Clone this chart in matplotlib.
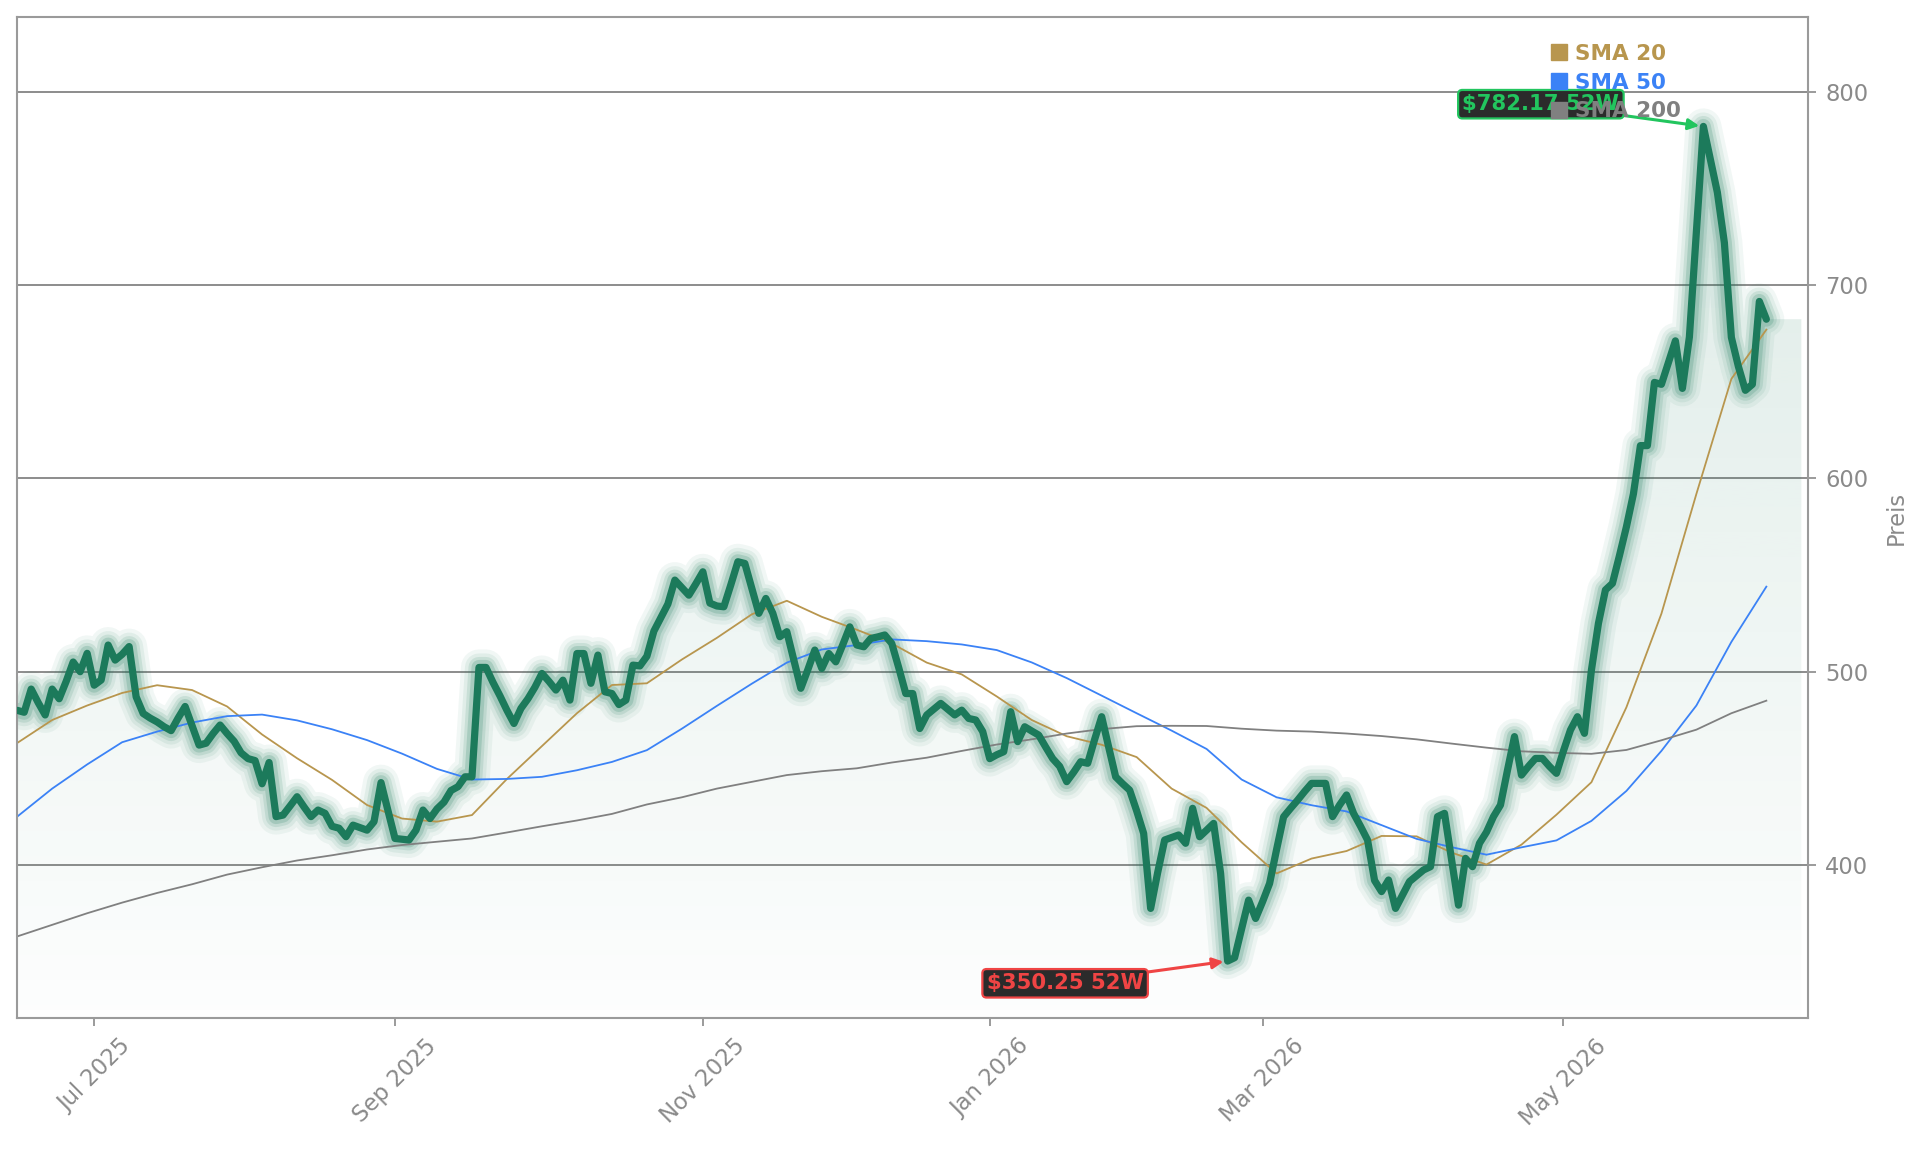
import numpy as np
import pandas as pd
import matplotlib
matplotlib.use("Agg")
import matplotlib.pyplot as plt
from matplotlib.lines import Line2D
from matplotlib.patches import Polygon

# ---------------- data ----------------
start_date = "2025-06-13"
holidays = ["2025-06-19", "2025-07-04", "2025-09-01", "2025-11-27", "2025-12-25",
            "2026-01-01", "2026-01-19", "2026-02-16", "2026-04-03", "2026-05-25"]

close = [
    480, 479, 491, 484, 477.6, 491, 486, 495, 505, 500,
    509.5, 493, 495.7, 513.8, 506, 509, 513, 487, 478.4, 476,
    474, 471.5, 469.5, 476, 482, 472, 462, 463, 468, 472.4,
    468, 464, 458, 455, 454, 442, 453, 425, 425.8, 430.5,
    435.3, 430, 425, 428.4, 426.7, 420, 419, 414.6, 420.6, 419.3,
    418, 422.4, 442.6, 428, 413.7, 413.3, 412.9, 418, 428.4, 424,
    429, 432.5, 438.5, 440.5, 445.6, 445.6, 502.2, 502.2, 494.5, 487.5,
    480, 473.2, 481, 486, 492, 499.1, 495, 490.5, 495.6, 485.3,
    509.4, 509.4, 494, 508.6, 489.6, 488.7, 483, 485.3, 503.4, 503,
    508, 521, 528, 535, 547.4, 543.5, 539.6, 545.5, 551.7, 535.5,
    534, 533.6, 545, 556.9, 556, 543, 530.2, 537.9, 530.2, 518.1,
    520.7, 506, 491.4, 501, 511.2, 501.7, 509.4, 505.1, 514, 523.2,
    513.8, 512.9, 517.2, 518, 519, 514.6, 502, 488.7, 488.7, 470.6,
    477.6, 480.6, 483.6, 480.6, 477.6, 480.1, 475.8, 475, 469, 455,
    457, 458.6, 479.3, 463.8, 471.5, 469.3, 467.2, 461, 455, 451,
    443.1, 448, 453.4, 452.6, 465, 476.7, 461, 445.6, 442, 438.7,
    428, 416.3, 377.5, 396, 412.9, 414.2, 415.5, 411.2, 429.3, 414.6,
    418, 421.5, 395.6, 350.25, 352, 367, 381.8, 372.3, 381, 390.4,
    408, 424.9, 429.3, 433.5, 438, 442.2, 442.2, 442.2, 425, 431,
    436.2, 426.7, 420, 412.9, 392, 386.2, 392.2, 377.5, 384.5, 391.4,
    394.4, 397.4, 399.1, 425, 426.7, 403, 379.2, 403.4, 399.1, 411.2,
    417, 425, 431, 449, 466.4, 446.5, 451, 455.1, 455.1, 451,
    447.4, 459, 469.8, 476.7, 468.1, 500.9, 525, 542.3, 545.7, 560,
    575, 592, 617, 617, 649.7, 648.7, 660, 671.2, 646.6, 673.2,
    728, 782.17, 765, 748, 722, 673, 658, 645.6, 648.7, 691.6,
    682.4,
]

# moving averages, read every 5th trading day
sma_step = 5
sma20 = [463.1, 475, 482.5, 489, 493, 490.5, 482, 467.5, 455.2, 444,
         431, 424, 422.4, 425.8, 444.5, 461.5, 478.5, 493.1, 494, 506.3,
         517.5, 529.7, 536.7, 528.4, 521.7, 514.6, 504.7, 498.6, 487.2, 475,
         466.6, 462.2, 455.8, 439.5, 429.5, 411.7, 395.6, 403.3, 407.2, 415,
         414.8, 406.4, 400.2, 410.5, 426, 442.8, 481.6, 530, 592, 651.5,
         677]
sma50 = [425, 439.5, 452, 463.5, 469, 473.7, 477, 477.8, 474.8, 470.2,
         464.6, 457.6, 449.7, 444.2, 444.5, 445.6, 449, 453.3, 459.4, 470.5,
         482.3, 493.8, 504.7, 511.5, 513.8, 516.7, 515.8, 514.1, 511.2, 504.8,
         496.7, 487.6, 478.5, 469.5, 460, 444.2, 435, 430.9, 427.7, 420.6,
         413.5, 409.2, 405.3, 409.1, 412.7, 422.8, 438.3, 459, 482.5, 515.4,
         544]
sma200 = [363, 369, 375, 380.5, 385.5, 390, 395, 398.8, 402.3, 405,
          408, 410.3, 412, 413.7, 416.8, 420, 423, 426.4, 431.3, 435,
          439.5, 443, 446.5, 448.5, 450, 453, 455.5, 459, 462.3, 465,
          468, 470.3, 471.8, 472, 471.9, 470.5, 469.5, 469, 468, 466.7,
          465, 462.8, 460.7, 458.8, 458, 457.5, 459.5, 464.5, 470, 478.5,
          485]
sma_labels = ["SMA 20", "SMA 50", "SMA 200"]

# ---------------- styling ----------------
GREEN = "#1c7a5b"
SMA_COLORS = ["#b8964e", "#3b82f6", "#808080"]
UP = "#22c55e"
DOWN = "#ef4444"
AX_GRAY = "#8a8a8a"

close = np.asarray(close, dtype=float)
n = len(close)
dates = pd.bdate_range(start_date, periods=n, freq="C", holidays=holidays)
x = np.arange(n)
xs = x[::sma_step]

fig = plt.figure(figsize=(19.21, 11.53), dpi=100)
ax = fig.add_axes([0.00895, 0.1171, 0.9324, 0.868])
ax.set_facecolor("white")

y_lo, y_hi = 320.8, 838.7
x_pad = 5

# gradient fill below the price
xf = np.append(x, x[-1] + x_pad)
yf = np.append(close, close[-1])
verts = [(xf[0], y_lo)] + list(zip(xf, yf)) + [(xf[-1], y_lo)]
poly = Polygon(verts, closed=True, fc="none", ec="none")
ax.add_patch(poly)
rgb = np.array([28, 122, 91]) / 255.0
alpha = np.linspace(0.01, 0.15, 256).reshape(-1, 1)
img = np.zeros((256, 1, 4))
img[..., :3] = rgb
img[..., 3] = alpha
im = ax.imshow(img, extent=[xf[0], xf[-1], y_lo, close.max()], origin="lower",
               aspect="auto", zorder=1, interpolation="bilinear")
im.set_clip_path(poly)

# glow
for lw_px, a in [(36, 0.06), (28, 0.08), (21, 0.12), (15, 0.18)]:
    ax.plot(x, close, color=GREEN, lw=lw_px * 0.72, alpha=a, zorder=2,
            solid_joinstyle="round", solid_capstyle="round")

# moving averages
for vals, c in zip([sma20, sma50, sma200], SMA_COLORS):
    ax.plot(xs, vals, color=c, lw=1.3, zorder=2.5)

# price core line
ax.plot(x, close, color=GREEN, lw=5.2, zorder=3,
        solid_joinstyle="round", solid_capstyle="round")

# 52-week high / low annotations
imax, imin = int(np.argmax(close)), int(np.argmin(close))
for idx, col, dy in [(imax, UP, 16), (imin, DOWN, -16)]:
    ax.annotate(f"${close[idx]:.2f} 52W", xy=(idx, close[idx]),
                xytext=(-117, dy), textcoords="offset points",
                ha="center", va="center", color=col, fontsize=15.3,
                fontweight="bold", zorder=4,
                bbox=dict(boxstyle="round,pad=0.2", fc="#2b2b2b", ec=col, lw=1.6),
                arrowprops=dict(arrowstyle="-|>", color=col, lw=2.2,
                                mutation_scale=16, shrinkA=0, shrinkB=3))

# axes limits and ticks
ax.set_xlim(0, n - 1 + x_pad + 1)
ax.set_ylim(y_lo, y_hi)
ax.set_yticks([400, 500, 600, 700, 800])
ax.yaxis.tick_right()
ax.yaxis.set_label_position("right")
ax.set_ylabel("Preis", color=AX_GRAY, fontsize=16.3, labelpad=12)

tick_idx = [i for i in range(1, n)
            if dates[i].month != dates[i - 1].month and dates[i].month % 2 == 1]
ax.set_xticks(tick_idx)
ax.set_xticklabels([dates[i].strftime("%b %Y") for i in tick_idx],
                   rotation=45, ha="center")

ax.tick_params(axis="both", colors=AX_GRAY, labelcolor=AX_GRAY, labelsize=16.3,
               length=6, width=1.2)
ax.tick_params(axis="y", pad=6)
ax.tick_params(axis="x", pad=6)

ax.set_axisbelow(True)
ax.grid(axis="y", color="#8c8c8c", lw=1.4, zorder=0)
ax.grid(axis="x", visible=False)
for s in ax.spines.values():
    s.set_color("#9a9a9a")
    s.set_linewidth(1.5)

# legend
handles = [Line2D([], [], ls="none", marker="s", ms=11, color=c) for c in SMA_COLORS]
leg = ax.legend(handles, sma_labels, loc="upper left", bbox_to_anchor=(0.851, 0.984),
                frameon=False, borderpad=0, handlelength=0.6, handletextpad=0.45,
                labelspacing=0.40, prop=dict(weight="bold", size=15.5))
leg.set_zorder(6)
for t, c in zip(leg.get_texts(), SMA_COLORS):
    t.set_color(c)

fig.savefig("out.png", dpi=100, facecolor="white")
